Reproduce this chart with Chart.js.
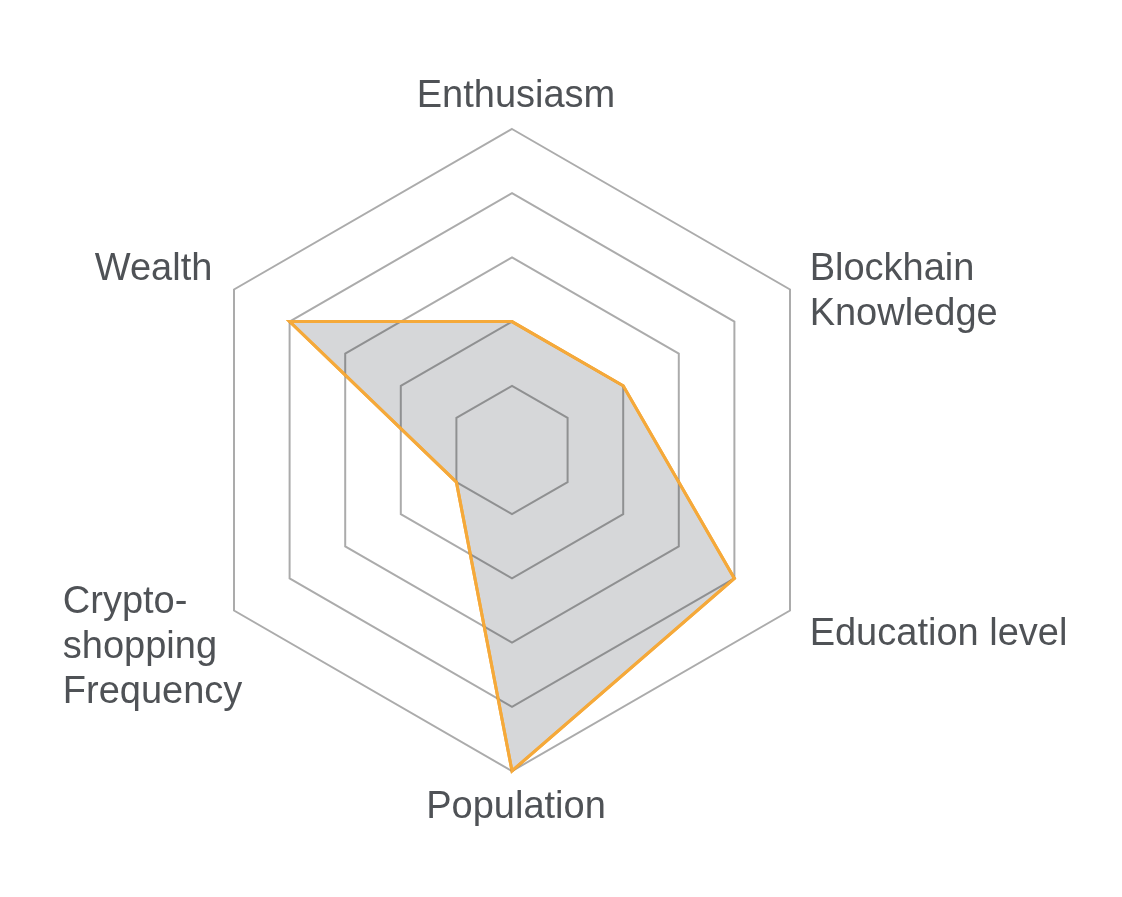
<!DOCTYPE html>
<html>
<head>
<meta charset="utf-8">
<script src="https://cdn.jsdelivr.net/npm/chart.js@4.4.0/dist/chart.umd.min.js"></script>
<style>
  html, body { margin: 0; padding: 0; background: #fff; }
  #wrap { width: 1122px; height: 897px; }
</style>
</head>
<body>
<div id="wrap"><canvas id="radar"></canvas></div>
<script>
var labels = ["Enthusiasm", ["Blockhain", "Knowledge"], "Education level", "Population", ["Crypto-", "shopping", "Frequency"], "Wealth"];
var values = [2, 2, 4, 5, 1, 4];
var scaleMax = 5;

var labelFont = '38px "Liberation Sans", Arial, sans-serif';
var labelColor = '#4f5256';
var lineH = 45;

// grid sits above the grey fill, the orange outline goes back on top of the grid,
// then the axis names are written next to the outer ring
var outlineAndLabels = {
    id: 'outlineAndLabels',
    afterDraw: function (chart) {
        var ctx = chart.ctx;
        var meta = chart.getDatasetMeta(0);
        ctx.save();
        meta.dataset.draw(ctx, chart.chartArea);
        ctx.restore();

        var scale = chart.scales.r;
        ctx.save();
        ctx.font = labelFont;
        ctx.fillStyle = labelColor;
        ctx.textBaseline = 'alphabetic';
        ctx.textAlign = 'left';
        for (var i = 0; i < labels.length; i++) {
            var lines = [].concat(labels[i]);
            var n = lines.length;
            var p = scale.getPointPosition(i, scale.drawingArea + 25);
            var dx = p.x - scale.xCenter;
            var base = p.y < scale.yCenter - 1 ? p.y + 3 : p.y + 22 - 16 * (n - 1);
            var widest = 0;
            lines.forEach(function (t) { widest = Math.max(widest, ctx.measureText(t).width); });
            for (var k = 0; k < n; k++) {
                var w = ctx.measureText(lines[k]).width;
                var x;
                if (Math.abs(dx) < 1) x = p.x + 4 - w / 2;
                else if (dx > 0) x = p.x - 2;
                else x = p.x + 15 * (n - 1) - widest;
                ctx.fillText(lines[k], x, base + k * lineH);
            }
        }
        ctx.restore();
    }
};

new Chart(document.getElementById("radar"), {
    type: 'radar',
    data: {
        labels: labels,
        datasets: [{
            data: values,
            backgroundColor: '#d6d7d9',
            borderColor: '#f5a93a',
            borderWidth: 3,
            pointRadius: 0,
            fill: true
        }]
    },
    options: {
        responsive: true,
        maintainAspectRatio: false,
        animation: false,
        layout: { padding: { top: 129, bottom: 126, left: 100, right: 198 } },
        plugins: { legend: { display: false }, tooltip: { enabled: false } },
        scales: {
            r: {
                min: 0,
                max: scaleMax,
                ticks: { stepSize: 1, display: false },
                angleLines: { display: false },
                grid: { color: 'rgba(0,0,0,0.33)', lineWidth: 2, z: 1 },
                pointLabels: { display: false }
            }
        }
    },
    plugins: [outlineAndLabels]
});
</script>
</body>
</html>
